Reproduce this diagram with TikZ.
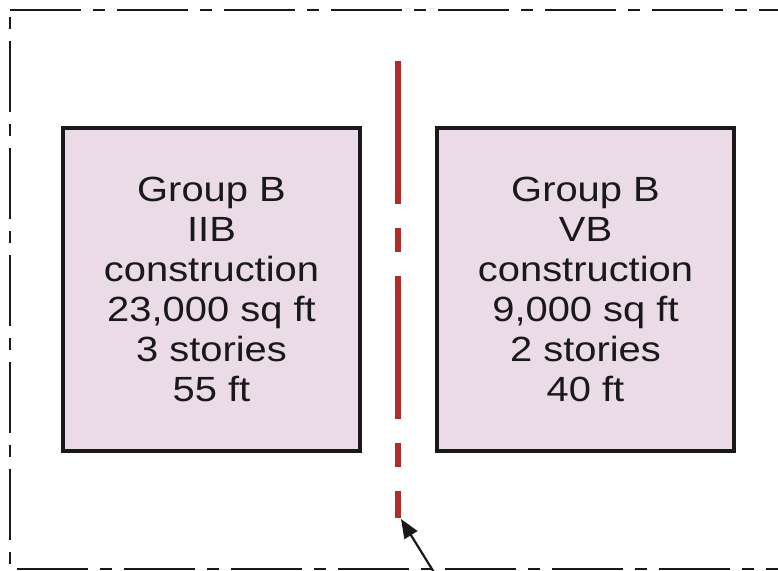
\documentclass[tikz,border=0pt]{standalone}
\usepackage{fontspec}
\newfontfamily\boxfont[FakeStretch=1.14]{Liberation Sans}
\usetikzlibrary{arrows.meta}
\definecolor{boxfill}{RGB}{234,219,230}
\definecolor{firered}{RGB}{176,44,40}
\definecolor{ink}{RGB}{25,25,25}
\begin{document}
\begin{tikzpicture}[x=1pt,y=-1pt,
  building/.style={draw=ink, line width=3.8pt, fill=boxfill, minimum width=297pt, minimum height=323pt,
    inner sep=0pt, align=center, text=ink, font=\boxfont\fontsize{35pt}{40pt}\selectfont},
  lotline/.style={draw=ink, line width=2.8pt},
  fireline/.style={draw=firered, line width=5.5pt, dash pattern=on 143pt off 24pt on 24pt off 24pt},
  pointer/.style={draw=ink, line width=2.2pt, -{Triangle[length=19pt,width=15pt]}}]
\useasboundingbox (0,0) rectangle (778,570);
\begin{scope}
\clip (0,0) rectangle (778,570);
% lot line (dash-dot border)
\draw[lotline, dash pattern=on 71pt off 12pt on 12pt off 12pt] (10,10) -- (790,10);
\draw[lotline, dash pattern=on 71pt off 12pt on 12pt off 12pt, dash phase=76pt] (10,10) -- (10,569);
\draw[lotline, dash pattern=on 71pt off 12pt on 12pt off 12pt, dash phase=100pt] (10,569) -- (790,569);
% buildings
\node[building] (L) at (211.5,289.5) {Group B\\IIB\\construction\\23,000 sq ft\\3 stories\\55 ft};
\node[building] (R) at (585.5,289.5) {Group B\\VB\\construction\\9,000 sq ft\\2 stories\\40 ft};
% fire separation line
\coordinate (ftop) at (398,61);
\coordinate (fend) at (398,518);
\draw[fireline] (ftop) -- (fend);
% pointer arrow
\coordinate (ptail) at (435,574);
\coordinate (ptip) at (401,519);
\draw[pointer] (ptail) -- (ptip);
\end{scope}
\end{tikzpicture}
\end{document}
